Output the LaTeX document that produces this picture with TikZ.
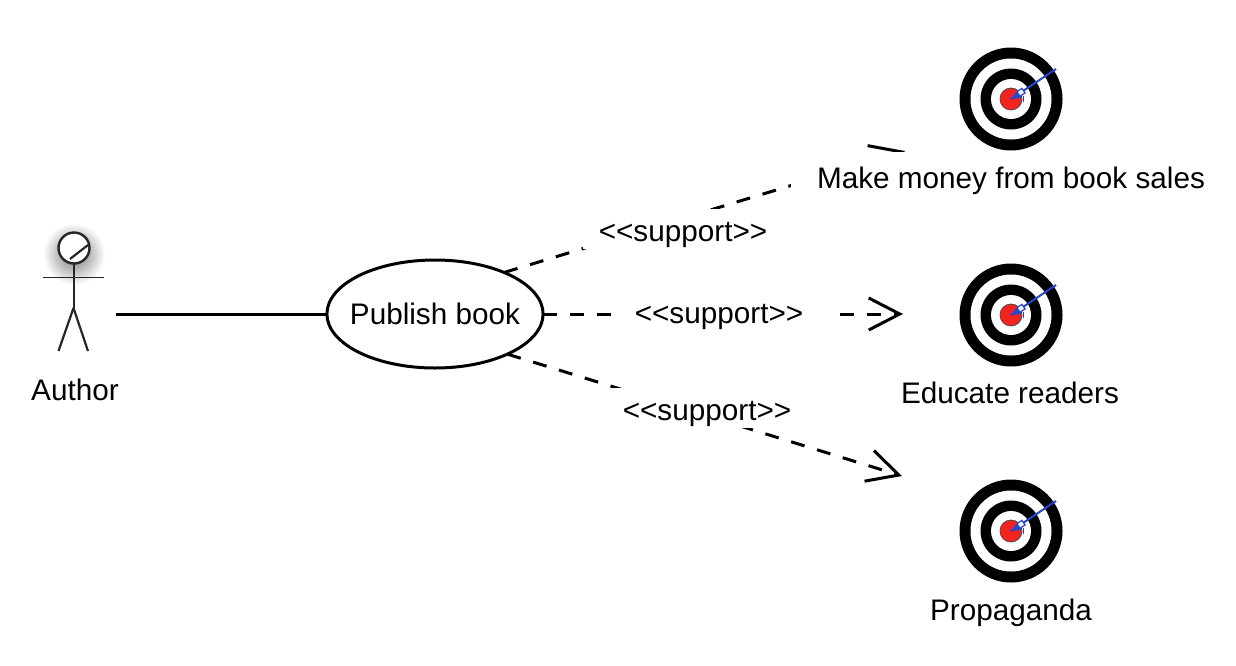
\documentclass[tikz,border=0pt]{standalone}
\usepackage{fontspec}
\setmainfont{Liberation Sans}
\usetikzlibrary{arrows.meta,shapes.geometric}
\definecolor{arrowblue}{RGB}{35,70,205}
\definecolor{bullred}{RGB}{245,35,30}
\newcommand{\suptext}{\raisebox{-12.8pt}[0pt][0pt]{{<}{<}support{>}{>}}}
\tikzset{
  base/.style={font=\fontsize{29.7}{34}\selectfont,inner sep=0pt,outer sep=0pt},
  usecase/.style={base,ellipse,draw=black,line width=3pt,fill=white,inner xsep=-8.6pt,minimum width=216pt,minimum height=108pt},
  txt/.style={base,text=black},
  goallabel/.style={base,fill=white,minimum height=58pt,minimum width=440pt},
  supportlabel/.style={base,fill=white,minimum height=40pt,minimum width=200pt},
  assoc/.style={line width=3pt,draw=black},
  dep/.style={line width=3pt,draw=black,dash pattern=on 14pt off 13pt,
    -{Straight Barb[length=31pt,width=32pt,line width=3pt]}},
  limb/.style={line width=1.8pt,draw=black!85},
  bull/.pic={
    \fill[black] (0,0) circle (51.5);
    \fill[white] (0,0) circle (40.5);
    \fill[black] (0,0) circle (30.5);
    \fill[white] (0,0) circle (20);
    \draw[fill=bullred,draw=black!70,line width=.8pt] (0,0) circle (11);
    \draw[arrowblue,line width=2pt] (0,0) -- (45,-30);
    \fill[arrowblue] (0,0) -- (10,-1) -- (6,-8) -- cycle;
    \draw[arrowblue,line width=1.2pt,fill=white,rotate=33.7] (9,-2.8) rectangle (15,2.8);
    \draw[arrowblue,line width=1pt] (12,-2.8) -- (12,2.8);
  }
}
\begin{document}
\begin{tikzpicture}[x=1pt,y=-1pt]
\useasboundingbox (0,0) rectangle (1236,665);
% actor
\shade[inner color=black!55,outer color=white] (74,254) circle (31);
\draw[limb,fill=white,line width=2.4pt] (74,248) circle (15.5);
\draw[limb,line width=2.2pt] (70,259) -- (88,245);
\draw[limb,line width=2.6pt] (74,263) -- (74,308);
\draw[limb] (43,277.5) -- (104,277.5);
\draw[limb,line width=2.2pt] (73.5,308) -- (58.5,351);
\draw[limb,line width=2.2pt] (73.5,308) -- (88,351);
\coordinate (actorhand) at (116,314);
\node[txt] (author) at (75,390) {Author};
% goals
\pic at (1011,99) {bull};
\pic at (1011,315) {bull};
\pic at (1011,531) {bull};
% use case and ends
\node[usecase] (publish) at (435,314) {Publish book};
\coordinate (endA) at (905,151);
\coordinate (endB) at (903,314);
\coordinate (endC) at (902,476);
\draw[assoc] (actorhand) -- (publish.west);
\draw[dep] (publish.31.6) -- (endA);
\draw[dep] (publish.east) -- (endB);
\draw[dep] (publish.-29) -- (endC);
\node[goallabel] (money) at (1011,181) {Make money from book sales};
\node[txt] (educate) at (1010,393) {Educate readers};
\node[txt] (propaganda) at (1011,613) {Propaganda};
\node[supportlabel] (s1) at (683,229) {\suptext};
\node[supportlabel,minimum width=215pt] (s2) at (719,310.5) {\suptext};
\node[supportlabel] (s3) at (707,407.5) {\suptext};
\end{tikzpicture}
\end{document}
